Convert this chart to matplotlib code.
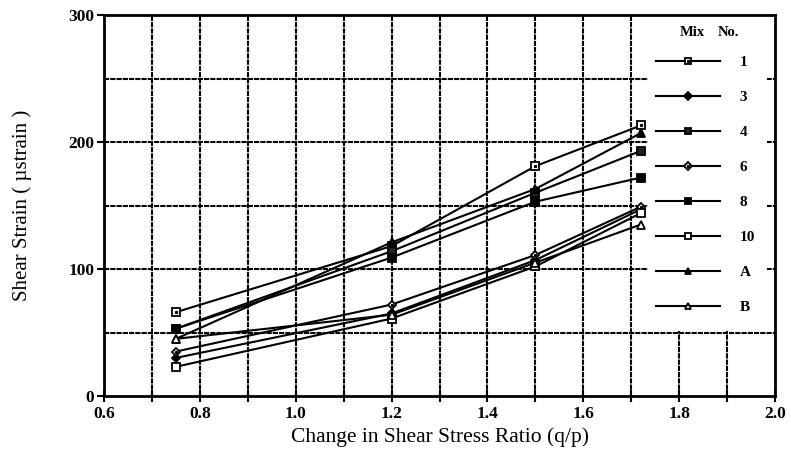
import numpy as np
import matplotlib.pyplot as plt
from matplotlib.lines import Line2D
from matplotlib.patches import Rectangle
from matplotlib.ticker import MultipleLocator

plt.rcParams['font.family'] = ['Liberation Serif', 'DejaVu Serif']

# Shear stress ratio steps and shear strain for each mix
ratio = [0.75, 1.2, 1.5, 1.72]
mix_names = ['1', '3', '4', '6', '8', '10', 'A', 'B']
strain_1 = [66, 118, 181, 213]
strain_3 = [30, 65, 107, 147]
strain_4 = [53, 114, 160, 193]
strain_6 = [35, 72, 111, 149]
strain_8 = [53, 109, 153, 172]
strain_10 = [23, 61, 102, 144]
strain_A = [45, 121, 163, 207]
strain_B = [45, 64, 105, 135]

strains = [strain_1, strain_3, strain_4, strain_6, strain_8, strain_10, strain_A, strain_B]

# marker, face colour, small centre dot?
styles = [
    ('s', 'white', True),
    ('D', 'black', False),
    ('s', '#222222', False),
    ('D', 'white', True),
    ('s', 'black', False),
    ('s', 'white', False),
    ('^', 'black', False),
    ('^', 'white', False),
]

fig = plt.figure(figsize=(7.91, 4.54), dpi=100)
ax = fig.add_axes([104 / 791, 1 - 396 / 454, 671 / 791, 381 / 454])

grid_kw = dict(color='black', lw=1.5, ls=(0, (2.5, 0.5)), zorder=1)
for gx in np.arange(0.7, 2.0, 0.1):
    ax.axvline(gx, **grid_kw)
for gy in range(50, 300, 50):
    ax.axhline(gy, **grid_kw)

# white panel behind the legend
ax.add_patch(Rectangle((1.735, 51.5), 0.248, 250, facecolor='white',
                       edgecolor='none', zorder=2))

handles = []
for vals, (m, fc, dot) in zip(strains, styles):
    ms = 5.5 if m != 'D' else 4.5
    ax.plot(ratio, vals, color='black', lw=1.5, marker=m, ms=ms, mfc=fc,
            mec='black', mew=1.3, zorder=3)
    h = Line2D([], [], color='black', lw=1.5, marker=m, ms=ms - 0.5, mfc=fc,
               mec='black', mew=1.3)
    if dot:
        ax.plot(ratio, vals, ls='none', marker='s', ms=1.3, color='black', zorder=4)
        d = Line2D([], [], ls='none', marker='s', ms=1.3, color='black')
        handles.append((h, d))
    else:
        handles.append(h)

leg = ax.legend(handles, mix_names, loc='upper left', bbox_to_anchor=(0.811, 0.913),
                frameon=False, borderpad=0, handlelength=4.2, handletextpad=1.3,
                labelspacing=1.39, numpoints=1, prop=dict(size=11, weight='bold'))
leg.set_zorder(5)

fig.text(692 / 791, 1 - 33 / 454, 'Mix', ha='center', va='center',
         fontsize=10.5, fontweight='bold')
fig.text(728 / 791, 1 - 33 / 454, 'No.', ha='center', va='center',
         fontsize=10.5, fontweight='bold')

ax.set_xlim(0.6, 2.0)
ax.set_ylim(0, 300)
ax.xaxis.set_major_locator(MultipleLocator(0.2))
ax.xaxis.set_minor_locator(MultipleLocator(0.1))
ax.yaxis.set_major_locator(MultipleLocator(100))
ax.set_xticklabels([f'{v:.1f}' for v in ax.get_xticks()])
ax.tick_params(axis='x', which='both', direction='inout', length=8, width=1.5,
               labelsize=12.5, pad=3)
ax.tick_params(axis='y', which='major', direction='out', length=5, width=1.5,
               labelsize=12.5, pad=2)
for lab in ax.get_xticklabels() + ax.get_yticklabels():
    lab.set_fontweight('bold')

for s in ax.spines.values():
    s.set_linewidth(2)
    s.set_zorder(6)

ax.set_xlabel('Change in Shear Stress Ratio (q/p)', fontsize=15.5, labelpad=4)
ax.set_ylabel('Shear Strain ( \u00b5strain )', fontsize=15, labelpad=26)

plt.savefig('out.png', dpi=100)
